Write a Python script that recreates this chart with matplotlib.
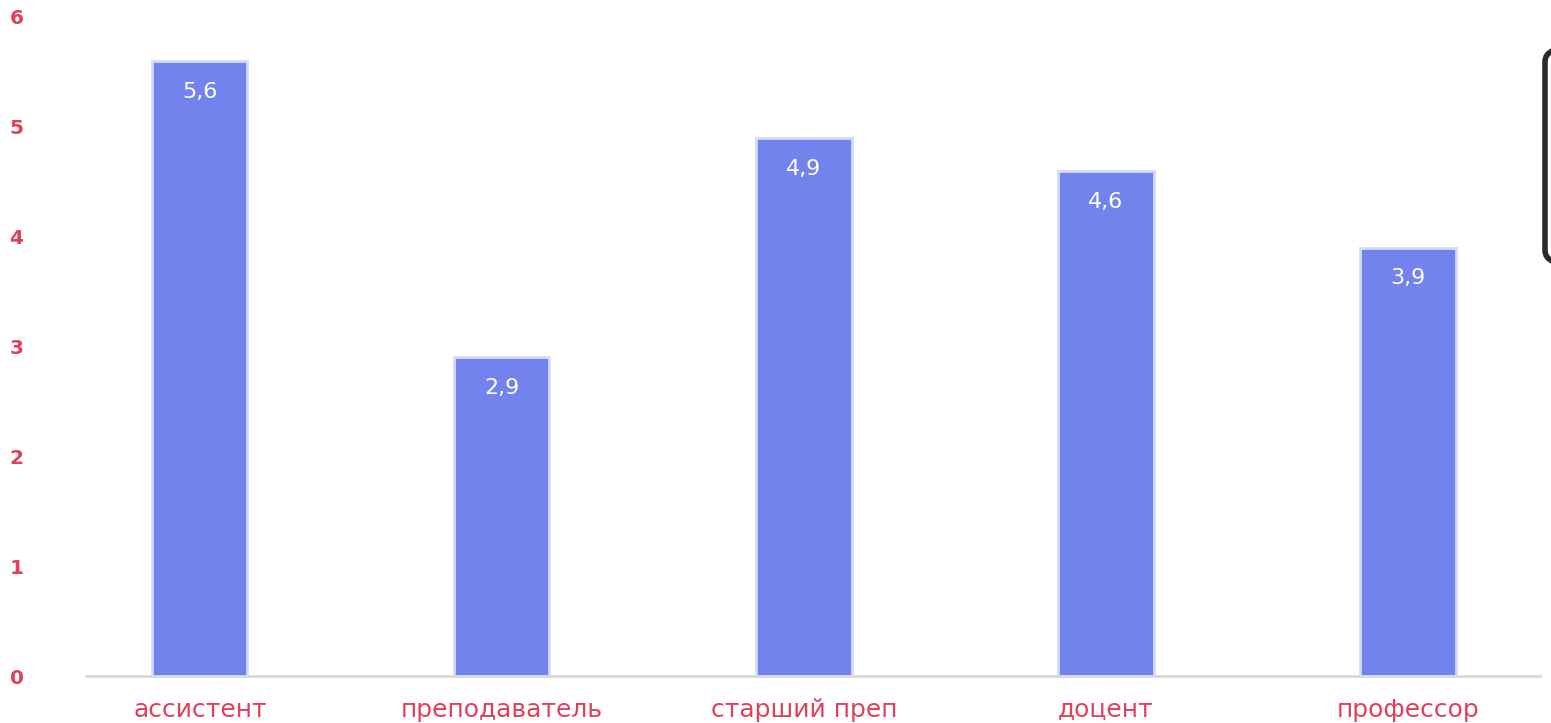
import matplotlib
matplotlib.use("Agg")
import matplotlib.pyplot as plt
from matplotlib.patches import FancyBboxPatch

categories = ["ассистент", "преподаватель", "старший преп", "доцент", "профессор"]
values = [5.6, 2.9, 4.9, 4.6, 3.9]
value_labels = ["5,6", "2,9", "4,9", "4,6", "3,9"]
y_ticks = [0, 1, 2, 3, 4, 5, 6]

bar_color = "#7383ee"
edge_color = "#d3dbf5"
label_red = "#e0405c"

plt.rcParams["font.family"] = ["DejaVu Sans"]

W, H = 1551, 723
fig = plt.figure(figsize=(W / 100, H / 100), dpi=100)
ax = fig.add_axes([86 / W, 1 - 676 / H, (1540 - 86) / W, (676 - 17) / H])

bars = ax.bar(range(len(categories)), values, width=0.315, color=bar_color,
              edgecolor=edge_color, linewidth=2.0, zorder=2)

for b, v, t in zip(bars, values, value_labels):
    ax.text(b.get_x() + b.get_width() / 2, v - 0.28, t, ha="center", va="center",
            color="white", fontsize=16)

ax.set_xlim(-0.377, 4.437)
ax.set_ylim(0, 6)

for s in ["top", "right", "left"]:
    ax.spines[s].set_visible(False)
ax.spines["bottom"].set_color("#d9d9d9")
ax.spines["bottom"].set_linewidth(2)

ax.set_yticks(y_ticks)
ax.set_yticklabels([str(t) for t in y_ticks], color=label_red, fontsize=14.5,
                   fontweight="bold")
ax.tick_params(axis="y", length=0, pad=55)
for lbl in ax.get_yticklabels():
    lbl.set_horizontalalignment("left")

ax.set_xticks(range(len(categories)))
ax.set_xticklabels(categories, color=label_red, fontsize=18)
ax.tick_params(axis="x", length=0, pad=16)

# legend frame, partly beyond the right edge
frame = FancyBboxPatch((1545 / W, 1 - 265 / H), 60 / W, 218 / H,
                       boxstyle="round,pad=0,rounding_size=0.02",
                       transform=fig.transFigure, facecolor="white",
                       edgecolor="#2a2a2a", linewidth=4, clip_on=False)
fig.patches.append(frame)

fig.savefig("out.png", dpi=100, facecolor="white")
